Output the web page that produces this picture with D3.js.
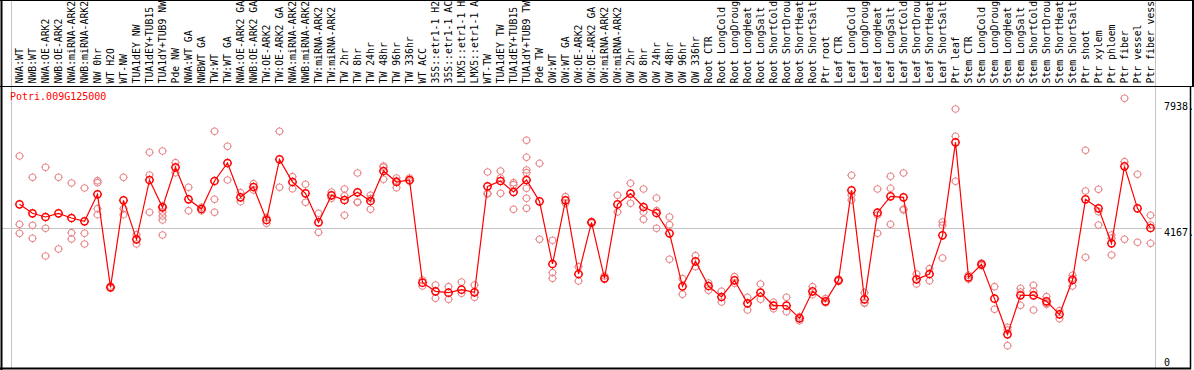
<!DOCTYPE html>
<html lang="en">

<head>
    <meta charset="utf-8">
    <title>Potri.009G125000</title>
    <script type="text/javascript" src="https://d3js.org/d3.v7.min.js"></script>
    <style>
        body { margin: 0; background: #fff; }
        svg { display: block; font-family: "DejaVu Sans Mono", monospace; font-size: 10px; }
    </style>
</head>

<body>
    <div id="container"></div>
    <script type="text/javascript">
        var geneId = "Potri.009G125000";

        var samples = [
            "NWA:WT", "NWB:WT", "NWA:OE-ARK2", "NWB:OE-ARK2", "NWA:miRNA-ARK2", "NWB:miRNA-ARK2",
            "NW 0hr", "WT H2O", "WT-NW", "TUA1dEY NW", "TUA1dEY+TUB15 NW", "TUA1dY+TUB9 NW", "Pde NW",
            "NWA:WT GA", "NWBWT GA", "TW:WT", "TW:WT GA", "NWA:OE-ARK2 GA", "NWB:OE-ARK2 GA",
            "TW:OE-ARK2", "TW:OE-ARK2 GA", "NWA:miRNA-ARK2", "NWB:miRNA-ARK2", "TW:miRNA-ARK2",
            "TW:miRNA-ARK2", "TW 2hr", "TW 8hr", "TW 24hr", "TW 48hr", "TW 96hr", "TW 336hr", "WT ACC",
            "35S::etr1-1 H2O", "35S::etr1-1 ACC", "LMX5::etr1-1 H2O", "LMX5::etr1-1 ACC", "WT-TW",
            "TUA1dEY TW", "TUA1dEY+TUB15 TW", "TUA1dY+TUB9 TW", "Pde TW",
            "OW:WT", "OW:WT GA", "OW:OE-ARK2", "OW:OE-ARK2 GA", "OW:miRNA-ARK2", "OW:miRNA-ARK2",
            "OW 2hr", "OW 8hr", "OW 24hr", "OW 48hr", "OW 96hr", "OW 336hr",
            "Root CTR", "Root LongCold", "Root LongDrought", "Root LongHeat", "Root LongSalt",
            "Root ShortCold", "Root ShortDrought", "Root ShortHeat", "Root ShortSalt", "Ptr root",
            "Leaf CTR", "Leaf LongCold", "Leaf LongDrought", "Leaf LongHeat", "Leaf LongSalt",
            "Leaf ShortCold", "Leaf ShortDrought", "Leaf ShortHeat", "Leaf ShortSalt", "Ptr leaf",
            "Stem CTR", "Stem LongCold", "Stem LongDrought", "Stem LongHeat", "Stem LongSalt",
            "Stem ShortCold", "Stem ShortDrought", "Stem ShortHeat", "Stem ShortSalt", "Ptr shoot",
            "Ptr xylem", "Ptr phloem", "Ptr fiber", "Ptr vessel", "Ptr fiber vessel"
        ];

        // samples per group (separator lines drawn between groups)
        var groupSizes = [13, 28, 12, 10, 10, 11, 1, 1, 1, 1];

        var means = [
            4846, 4584, 4477, 4584, 4447, 4350, 5137, 2425, 4963, 3825,
            5556, 4758, 5925, 4992, 4710, 5526, 6051, 5050, 5351, 4389,
            6158, 5497, 5167, 4321, 5108, 4972, 5196, 4943, 5818, 5497,
            5556, 2562, 2309, 2270, 2357, 2280, 5371, 5526, 5205, 5556,
            4933, 3106, 4963, 2814, 4321, 2688, 4846, 5157, 4768, 4593,
            4000, 2455, 3184, 2464, 2144, 2630, 1959, 2270, 1891, 1891,
            1521, 2309, 2017, 2630, 5254, 2076, 4603, 5079, 5050, 2659,
            2814, 3942, 6654, 2717, 3096, 2095, 1055, 2192, 2192, 2017,
            1638, 2639, 4992, 4729, 3708, 5954, 4729, 4156
        ];

        var replicates = [
            [6255, 4263, 4000], [5633, 4233, 3854], [5925, 4146, 3339], [5633, 3543],
            [5468, 4020, 3835], [5322, 4000, 3689], [5536, 5478, 4720, 4545], [2464, 2406],
            [5633, 4720, 4545], [3961, 3689], [6362, 5701, 4613], [6401, 4797, 4622, 4506, 4389, 3952],
            [6061, 5769], [5342, 4661], [4758, 4661], [6975, 4992, 4613], [6537, 5556],
            [5186, 4924], [5449, 5264], [4457, 4292], [6975, 5342], [5653, 5303], [5429, 4904],
            [4584, 4029], [5205, 5021], [5293, 5099, 4525], [5760, 4914, 4904], [5108, 5011, 4700],
            [5964, 5925, 5575], [5614, 5536, 5332], [5614, 5517], [2639, 2464], [2493, 2105],
            [2445, 2076], [2581, 2251], [2493, 2134], [5789, 5167, 5147], [5818, 5614, 5167],
            [5478, 5419, 4700], [6712, 6216, 5847, 5769, 5312, 5021, 4729], [6041, 3825],
            [3796, 2853, 2688], [5069, 4875], [3028, 2610], [4340, 4292], [2756, 2659],
            [5108, 4622], [5458, 4875], [5293, 4622, 4408], [5031, 4661, 4146], [4477, 4253, 3242],
            [2678, 2221], [3349, 3028], [2552, 2338], [2309, 1998], [2737, 2542], [2134, 1764],
            [2523, 2076], [1988, 1803], [2134, 1716], [1570, 1453], [2445, 2212], [2095, 1978],
            [2659, 2600], [5692, 5118, 4972], [2270, 1978, 1959], [5293, 4535, 4000],
            [5662, 5312, 4263], [5760, 4710, 4681], [2814, 2523], [2970, 2620], [4331, 4233, 3281],
            [7626, 6829, 5517], [2775, 2659], [3135, 3057], [2445, 1784], [1259, 1181, 724],
            [2396, 2289, 1900], [2484, 2309, 1764], [2153, 1959, 1930], [1745, 1511],
            [2775, 2688, 2464], [6421, 5235, 3300], [5283, 4632, 4243], [3952, 3854, 3368],
            [7938, 6090, 3825], [5721, 3738], [4525, 4243, 3708]
        ];

        var axisValues = [0, 4167, 7938];

        var w = 1194;
        var h = 370;
        var headerH = 86;
        var plotBottom = 369;
        var maxLabelChars = 14; // the header only has room for this many

        const svg = d3.select("div#container")
            .append("svg")
            .attr("width", w)
            .attr("height", h);

        var x = d3.scaleBand()
            .domain(d3.range(samples.length))
            .range([13, 13 + 13 * samples.length]);
        var y = d3.scaleLinear().domain([0, 7938]).range([370.5, 98.3]);
        var cx = (i) => x(i) + x.bandwidth() / 2;

        // group separators
        var starts = [0].concat(d3.cumsum(groupSizes));
        var sepX = (i) => (i < samples.length ? x(i) : x(samples.length - 1) + x.bandwidth()) - 1.5;
        svg.selectAll("line.sep")
            .data(starts)
            .enter()
            .append("line")
            .attr("class", "sep")
            .attr("x1", sepX).attr("x2", sepX)
            .attr("y1", 0).attr("y2", plotBottom)
            .attr("stroke", "#c4c4c4")
            .attr("stroke-width", 1);

        // reference line
        var refY = Math.round(y(4167)) + 0.5;
        svg.append("line")
            .attr("x1", 1).attr("x2", 1162)
            .attr("y1", refY).attr("y2", refY)
            .attr("stroke", "#c4c4c4");

        // frame
        svg.append("line").attr("x1", 0).attr("x2", w).attr("y1", 0.5).attr("y2", 0.5).attr("stroke", "#000");
        svg.append("line").attr("x1", 0).attr("x2", w).attr("y1", headerH + 0.5).attr("y2", headerH + 0.5).attr("stroke", "#000");
        svg.append("line").attr("x1", 0).attr("x2", 1191).attr("y1", plotBottom - 0.5).attr("y2", plotBottom - 0.5).attr("stroke", "#000").attr("stroke-width", 2);
        svg.append("line").attr("x1", 1.5).attr("x2", 1.5).attr("y1", 0).attr("y2", h).attr("stroke", "#000").attr("stroke-width", 2);
        svg.append("line").attr("x1", 1190.5).attr("x2", 1190.5).attr("y1", headerH).attr("y2", plotBottom).attr("stroke", "#000").attr("stroke-width", 1.5);
        svg.append("line").attr("x1", 1193).attr("x2", 1193).attr("y1", 0).attr("y2", headerH).attr("stroke", "#000").attr("stroke-width", 2);

        // sample labels, cut to the header height like the original
        svg.selectAll("text.sample")
            .data(samples)
            .enter()
            .append("text")
            .attr("class", "sample")
            .attr("transform", (d, i) => "translate(" + (cx(i) + 3.5) + "," + (headerH - 2.5) + ") rotate(-90)")
            .attr("fill", "#000")
            .style("font-size", "9.8px")
            .text((d) => d.slice(0, maxLabelChars));

        // gene id
        svg.append("text")
            .attr("x", 10)
            .attr("y", 100)
            .attr("fill", "#f00")
            .text(geneId);

        // right side values
        svg.selectAll("text.val")
            .data(axisValues)
            .enter()
            .append("text")
            .attr("class", "val")
            .attr("x", 1164)
            .attr("y", (d) => y(d) + (d === 0 ? -5 : (d === 7938 ? 12 : 8.5)))
            .attr("fill", "#000")
            .text((d) => d === 0 ? "0" : d + ".");

        function marker(sel, r, color, sw) {
            sel.append("circle")
                .attr("r", r)
                .attr("fill", "none")
                .attr("stroke", color)
                .attr("stroke-width", sw);
            sel.append("path")
                .attr("d", "M0," + (-r - 1) + "v1M0," + r + "v1M" + (-r - 1) + ",0h1M" + r + ",0h1")
                .attr("stroke", color)
                .attr("stroke-width", 1);
        }

        // replicates
        var repPts = [];
        replicates.forEach((arr, i) => arr.forEach((v) => repPts.push({ i: i, v: v })));
        svg.selectAll("g.rep")
            .data(repPts)
            .enter()
            .append("g")
            .attr("class", "rep")
            .attr("transform", (d) => "translate(" + cx(d.i) + "," + y(d.v) + ")")
            .call(marker, 3.3, "#e8898c", 1.1);

        // mean line
        var line = d3.line().x((d, i) => cx(i)).y((d) => y(d));
        svg.append("path")
            .datum(means)
            .attr("d", line)
            .attr("fill", "none")
            .attr("stroke", "#f00")
            .attr("stroke-width", 1.2);

        svg.selectAll("g.mean")
            .data(means)
            .enter()
            .append("g")
            .attr("class", "mean")
            .attr("transform", (d, i) => "translate(" + cx(i) + "," + y(d) + ")")
            .call(marker, 3.6, "#f00", 1.5);
    </script>
</body>

</html>
